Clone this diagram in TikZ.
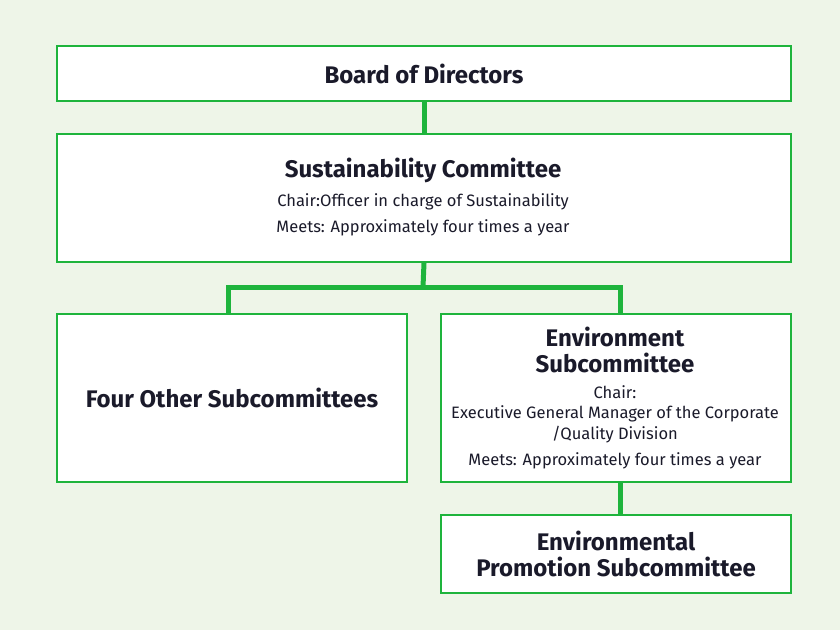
\documentclass[tikz,border=0pt]{standalone}
\usepackage{fontspec}
\setmainfont{Fira Sans}
\definecolor{bg}{HTML}{EEF5E8}
\definecolor{gr}{HTML}{1EB43C}
\definecolor{tx}{HTML}{1A1A2A}
\begin{document}
\begin{tikzpicture}[x=1pt,y=-1pt,
  box/.style={draw=gr,line width=2pt,fill=white,anchor=north west,inner sep=0pt,text=tx,align=center},
  conn/.style={draw=gr,line width=5pt},
  ttl/.style={font=\bfseries\fontsize{24}{26}\selectfont},
  sml/.style={font=\fontsize{16.5}{20.5}\selectfont}]
\fill[bg] (0,0) rectangle (840,630);
\useasboundingbox (0,0) rectangle (840,630);
\node[box,ttl,minimum width=734pt,minimum height=55pt] (bd) at (56,45) {Board of Directors};
\node[box,minimum width=734pt,minimum height=128pt] (sc) at (56,133) {};
\node[text=tx,ttl] (sct) at (423,170) {Sustainability Committee};
\node[text=tx,align=center,font=\fontsize{16.5}{26}\selectfont] (scs) at (423,215) {Chair:Officer in charge of Sustainability\\Meets: Approximately four times a year};
\node[box,ttl,minimum width=350pt,minimum height=168pt] (fo) at (56,313) {Four Other Subcommittees};
\node[box,minimum width=350pt,minimum height=168pt] (en) at (440,313) {};
\node[text=tx,ttl,align=center] (ent) at (615,350) {Environment\\Subcommittee};
\node[text=tx,sml,align=center] (ens) at (615,414) {Chair:\\Executive General Manager of the Corporate\\/Quality Division};
\node[text=tx,sml] (enm) at (615,461) {Meets: Approximately four times a year};
\node[box,ttl,minimum width=350pt,minimum height=78pt] (ep) at (440,514) {Environmental\\Promotion Subcommittee};
\coordinate (j) at (423,287);
\draw[conn] (bd.south) -- (sc.north);
\draw[conn] (sc.south) -- (j);
\draw[conn] (fo.north -| 228,0) -- (228,287) -- (620,287) -- (en.north -| 620,0);
\draw[conn] (en.south -| 620,0) -- (ep.north -| 620,0);
\end{tikzpicture}
\end{document}
